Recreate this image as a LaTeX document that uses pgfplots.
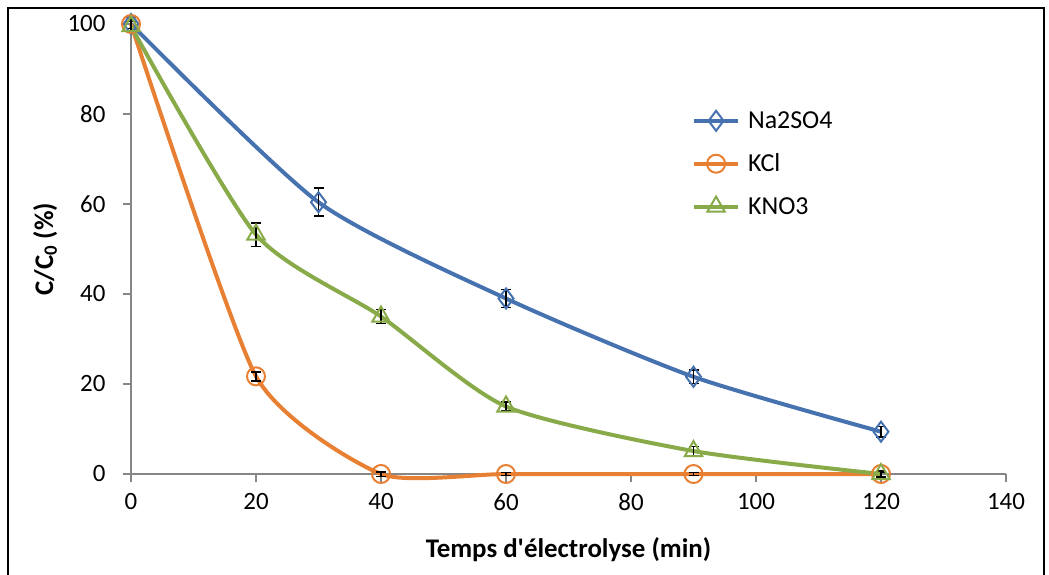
\documentclass[border=0pt]{standalone}
\usepackage{fontspec}
\setmainfont{Carlito}
\usepackage{pgfplots}
\pgfplotsset{compat=1.18}
\definecolor{cblue}{RGB}{70,114,176}
\definecolor{corange}{RGB}{232,128,52}
\definecolor{cgreen}{RGB}{137,170,72}
\definecolor{axgray}{RGB}{134,134,134}
\begin{document}
\begin{tikzpicture}
\useasboundingbox (-131bp,-101bp) rectangle (918bp,474bp);
\draw[black, line width=1.2bp] (-123bp,-110bp) rectangle (913bp,466bp);
\begin{axis}[
  scale only axis,
  width=875bp, height=450bp,
  xmin=0, xmax=140, ymin=0, ymax=100,
  axis x line=bottom, axis y line=left,
  axis line style={axgray, line width=1.2bp, -},
  xtick={0,20,...,140}, ytick={0,20,...,100},
  tick align=outside,
  major tick length=8bp,
  tick style={axgray, line width=1.2bp},
  /pgf/number format/assume math mode=true,
  tick label style={font=\fontsize{25}{29}\selectfont},
  xticklabel style={yshift=-8bp},
  yticklabel style={xshift=-14bp},
  xlabel={\textbf{Temps d\textquotesingle électrolyse (min)}},
  ylabel={\textbf{C/C\textsubscript{0} (\%)}},
  label style={font=\fontsize{27}{31}\selectfont},
  xlabel style={at={(axis description cs:0.5,-0.167)}, anchor=center},
  ylabel style={at={(axis description cs:-0.098,0.5)}, anchor=center},
  clip=false,
  legend style={draw=none, fill=none, at={(rel axis cs:0.641,0.81)}, anchor=north west,
    font=\fontsize{26}{30}\selectfont, row sep=20bp, inner sep=0pt,
    nodes={inner xsep=8bp}},
  legend cell align=left,
  legend image code/.code={
    \draw[#1, line width=4bp] (0bp,0bp) -- (44bp,0bp);
    \draw[#1, line width=2bp, mark repeat=1] plot coordinates {(22bp,0bp)};
  },
  every axis plot/.append style={line width=4bp},
  error bars/error bar style={black, line width=1.5bp},
  error bars/error mark options={black, line width=1.5bp, rotate=90, mark size=5bp},
]
\addplot[cblue, smooth, tension=0.4, mark=diamond, mark size=10bp, mark options={fill=white, line width=2bp},
  error bars/.cd, y dir=both, y explicit]
  coordinates {(0,100) +- (0,1.5) (30,60.4) +- (0,3.1) (60,39.0) +- (0,2.0) (90,21.6) +- (0,1.5) (120,9.4) +- (0,1.2)};
\addlegendentry{Na2SO4}
\addplot[corange, smooth, tension=0.35, mark=o, mark size=9bp, mark options={fill=white, line width=2bp},
  error bars/.cd, y dir=both, y explicit]
  coordinates {(0,100) +- (0,1) (20,21.7) +- (0,1) (40,0) +- (0,0.5) (60,0) +- (0,0.3) (90,0) +- (0,0.3) (120,0) +- (0,0.5)};
\addlegendentry{KCl}
\addplot[cgreen, smooth, tension=0.4, mark=triangle, mark size=10bp, mark options={fill=white, line width=2bp},
  error bars/.cd, y dir=both, y explicit]
  coordinates {(0,99.5) +- (0,1) (20,53.2) +- (0,2.6) (40,35.0) +- (0,1.6) (60,15.0) +- (0,1.0) (90,5.1) +- (0,1.0) (120,0) +- (0,0.8)};
\addlegendentry{KNO3}
\end{axis}
\end{tikzpicture}
\end{document}
